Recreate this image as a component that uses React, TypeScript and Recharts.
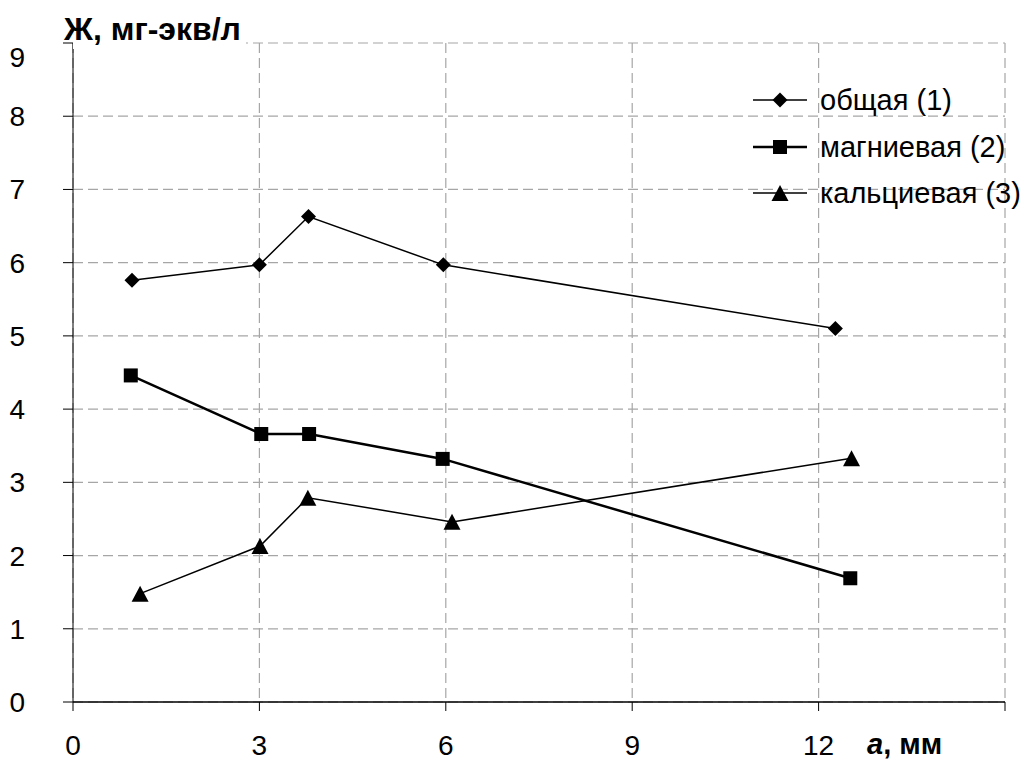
import React from 'react';
import { LineChart, Line, XAxis, YAxis, CartesianGrid, Legend } from 'recharts';

const xTicks = [0, 3, 6, 9, 12, 15];
const yTicks = [0, 1, 2, 3, 4, 5, 6, 7, 8, 9];

const totalX = [0.95, 3.0, 3.79, 5.96, 12.27];
const totalY = [5.76, 5.97, 6.63, 5.97, 5.1];

const magnesiumX = [0.93, 3.03, 3.8, 5.95, 12.51];
const magnesiumY = [4.46, 3.66, 3.66, 3.32, 1.69];

const calciumX = [1.08, 3.01, 3.78, 6.1, 12.53];
const calciumY = [1.48, 2.13, 2.79, 2.46, 3.33];

const seriesNames = ['общая (1)', 'магниевая (2)', 'кальциевая (3)'];

const toRows = (xs: number[], ys: number[]) => xs.map((x, i) => ({ x, y: ys[i] }));

const totalData = toRows(totalX, totalY);
const magnesiumData = toRows(magnesiumX, magnesiumY);
const calciumData = toRows(calciumX, calciumY);

const FONT = '"Liberation Sans", Arial, sans-serif';
const FS = 28;

type Shape = 'diamond' | 'square' | 'triangle';

const Marker = ({ cx, cy, shape }: { cx: number; cy: number; shape: Shape }) => {
  if (shape === 'diamond') {
    const r = 7.5;
    return <path d={`M${cx},${cy - r}L${cx + r},${cy}L${cx},${cy + r}L${cx - r},${cy}Z`} fill="#000" />;
  }
  if (shape === 'square') {
    const r = 7;
    return <rect x={cx - r} y={cy - r} width={2 * r} height={2 * r} fill="#000" />;
  }
  const w = 8.5;
  const h = 8;
  return <path d={`M${cx},${cy - h}L${cx + w},${cy + h}L${cx - w},${cy + h}Z`} fill="#000" />;
};

const makeDot = (shape: Shape) => (props: any) => {
  const { cx, cy, index } = props;
  if (cx == null || cy == null) return <g key={`d-${shape}-${index}`} />;
  return (
    <g key={`d-${shape}-${index}`}>
      <Marker cx={cx} cy={cy} shape={shape} />
    </g>
  );
};

const legendItems: { name: string; shape: Shape; width: number }[] = [
  { name: seriesNames[0], shape: 'diamond', width: 1.5 },
  { name: seriesNames[1], shape: 'square', width: 2.5 },
  { name: seriesNames[2], shape: 'triangle', width: 1.5 },
];

const renderLegend = () => (
  <div style={{ fontFamily: FONT, fontSize: 29, color: '#000' }}>
    {legendItems.map((it) => (
      <div key={it.name} style={{ display: 'flex', alignItems: 'center', height: 46.5 }}>
        <svg width={54} height={30} style={{ display: 'block', flex: 'none' }}>
          <line x1={0} y1={15} x2={54} y2={15} stroke="#000" strokeWidth={it.width} />
          <Marker cx={27} cy={15} shape={it.shape} />
        </svg>
        <span style={{ marginLeft: 13, lineHeight: '46px', whiteSpace: 'nowrap' }}>{it.name}</span>
      </div>
    ))}
  </div>
);

const YTick = (props: any) => {
  const { x, y, payload } = props;
  const shift = payload.value === 9 ? 14 : 0;
  return (
    <text x={x} y={y + shift + 10} textAnchor="end" fontFamily={FONT} fontSize={FS} fill="#000">
      {payload.value}
    </text>
  );
};

const XTick = (props: any) => {
  const { x, y, payload } = props;
  if (payload.value === 15) return <g />;
  return (
    <text x={x} y={y + 20} textAnchor="middle" fontFamily={FONT} fontSize={FS} fill="#000">
      {payload.value}
    </text>
  );
};

export default function App() {
  return (
    <div style={{ position: 'absolute', left: 0, top: 0, width: 1025, height: 765, background: '#fff' }}>
      <LineChart width={1025} height={765} margin={{ top: 43, right: 20, bottom: 0, left: 0 }}>
        <CartesianGrid stroke="#a6a6a6" strokeDasharray="10 5" strokeWidth={1.2} />
        <XAxis
          type="number"
          dataKey="x"
          domain={[0, 15]}
          ticks={xTicks}
          interval={0}
          height={63}
          tickSize={9}
          tickMargin={24}
          axisLine={{ stroke: '#000', strokeWidth: 1.5 }}
          tickLine={{ stroke: '#000' }}
          tick={<XTick />}
          allowDataOverflow
        />
        <YAxis
          type="number"
          domain={[0, 9]}
          ticks={yTicks}
          interval={0}
          width={73}
          tickSize={10}
          tickMargin={38}
          axisLine={{ stroke: '#000', strokeWidth: 1 }}
          tickLine={{ stroke: '#000' }}
          tick={<YTick />}
          allowDataOverflow
        />
        <Legend
          verticalAlign="middle"
          align="center"
          layout="vertical"
          content={renderLegend}
          wrapperStyle={{ left: 753, top: 77, width: 272 }}
        />
        <Line
          data={totalData}
          dataKey="y"
          name={seriesNames[0]}
          stroke="#000"
          strokeWidth={1.5}
          dot={makeDot('diamond')}
          activeDot={false}
          isAnimationActive={false}
        />
        <Line
          data={magnesiumData}
          dataKey="y"
          name={seriesNames[1]}
          stroke="#000"
          strokeWidth={2.5}
          dot={makeDot('square')}
          activeDot={false}
          isAnimationActive={false}
        />
        <Line
          data={calciumData}
          dataKey="y"
          name={seriesNames[2]}
          stroke="#000"
          strokeWidth={1.5}
          dot={makeDot('triangle')}
          activeDot={false}
          isAnimationActive={false}
        />
      </LineChart>
      <div style={{ position: 'absolute', left: 73, top: 8, width: 173, height: 41, background: '#fff' }} />
      <div
        style={{
          position: 'absolute',
          left: 64,
          top: 13,
          fontFamily: FONT,
          fontWeight: 'bold',
          fontSize: 32,
          lineHeight: '32px',
          whiteSpace: 'nowrap',
          color: '#000',
        }}
      >
        Ж, мг-экв/л
      </div>
      <div
        style={{
          position: 'absolute',
          left: 867,
          top: 730,
          fontFamily: FONT,
          fontWeight: 'bold',
          fontSize: 29,
          lineHeight: '29px',
          whiteSpace: 'nowrap',
          color: '#000',
        }}
      >
        <i>a</i>, мм
      </div>
    </div>
  );
}
